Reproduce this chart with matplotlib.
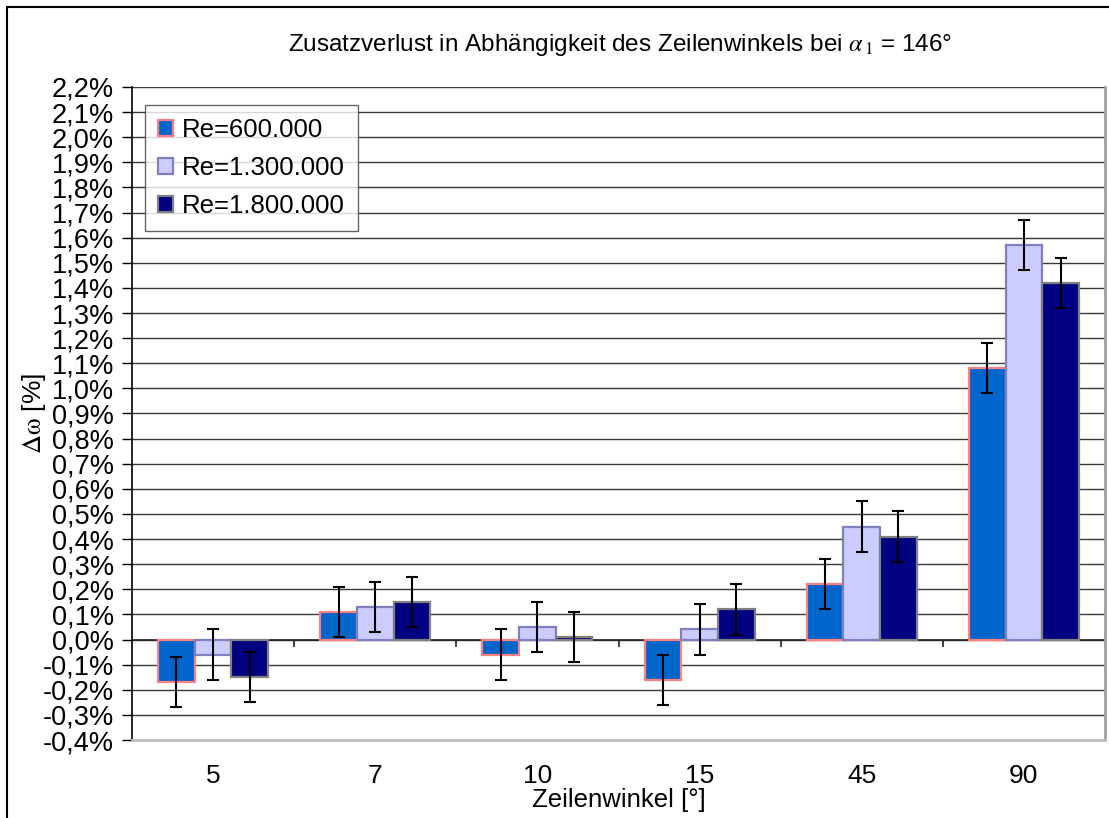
import numpy as np
import matplotlib
matplotlib.use('Agg')
import matplotlib.pyplot as plt
from matplotlib.patches import Rectangle
from matplotlib.ticker import FuncFormatter, MultipleLocator

# Zeilenwinkel categories and loss increase (in %) per Reynolds number
angles = ['5', '7', '10', '15', '45', '90']
series_names = ['Re=600.000', 'Re=1.300.000', 'Re=1.800.000']
re_600k = [-0.17, 0.11, -0.06, -0.16, 0.22, 1.08]
re_1300k = [-0.06, 0.13, 0.05, 0.04, 0.45, 1.57]
re_1800k = [-0.15, 0.15, 0.01, 0.12, 0.41, 1.42]
err = 0.1  # +/- measurement uncertainty

fills = ['#0066cc', '#ccccff', '#000080']
edges = ['#ff8080', '#8080c0', '#808080']

plt.rcParams['font.family'] = ['Liberation Sans', 'DejaVu Sans']
plt.rcParams['mathtext.fontset'] = 'stix'

fig = plt.figure(figsize=(11.09, 8.18), dpi=100)
ax = fig.add_axes([132/1109, 1-740/818, (1105-132)/1109, (740-87)/818])

x = np.arange(len(angles))
w = 0.226
for i, vals in enumerate([re_600k, re_1300k, re_1800k]):
    pos = x + (i - 1) * w
    ax.bar(pos, vals, width=w, color=fills[i], edgecolor=edges[i], linewidth=1.6,
           label=series_names[i], zorder=3)
    ax.errorbar(pos, vals, yerr=err, fmt='none', ecolor='black', elinewidth=1.5,
                capsize=4.5, capthick=1.5, zorder=4)

ax.set_xlim(-0.5, len(angles) - 0.5)
ax.set_ylim(-0.4, 2.2)
ax.yaxis.set_major_locator(MultipleLocator(0.1))
ax.yaxis.set_major_formatter(FuncFormatter(lambda v, p: ('%.1f%%' % v).replace('.', ',').replace('-0,0', '0,0')))
ax.grid(axis='y', color='#3a3a3a', linewidth=1, zorder=1)
ax.axhline(0, color='#222222', linewidth=1.2, zorder=2)
# category tick marks on the zero line
ax.vlines(x[:-1] + 0.5, -0.03, 0, color='#222222', linewidth=1.2, zorder=2)

ax.set_xticks(x)
ax.set_xticklabels(angles)
ax.tick_params(axis='x', length=0, pad=17, labelsize=19)
ax.tick_params(axis='y', length=7, width=1, direction='out', pad=6, labelsize=19.5)

ax.spines['top'].set_visible(False)
ax.spines['left'].set_color('black')
ax.spines['left'].set_linewidth(1.2)
ax.spines['right'].set_color('#a0a0a0')
ax.spines['right'].set_linewidth(2)
ax.spines['bottom'].set_color('#c0c0c0')
ax.spines['bottom'].set_linewidth(2)

ax.set_xlabel('Zeilenwinkel [°]', fontsize=18.5, labelpad=0)
ax.set_ylabel(r'$\mathrm{\Delta\omega}$ [%]', fontsize=19, labelpad=-4)

leg = ax.legend(loc='upper left', bbox_to_anchor=(0.0134, 0.972), borderaxespad=0,
                fontsize=18.5, frameon=True, fancybox=False, handlelength=0.6,
                handleheight=0.6, handletextpad=0.35, labelspacing=0.55,
                borderpad=0.5)
leg.get_frame().set_edgecolor('#404040')
leg.get_frame().set_linewidth(1)

fig.text(0.559, 1-45/818, r'Zusatzverlust in Abhängigkeit des Zeilenwinkels bei $\alpha_{\,1}$ = 146°',
         ha='center', va='center', fontsize=17.5)

# outer chart frame
fig.patches.append(Rectangle((7/1109, -0.1), 1.2, 1.1 - 7/818, transform=fig.transFigure,
                             fill=False, edgecolor='black', linewidth=1.5))

fig.savefig('out.png', dpi=100)
